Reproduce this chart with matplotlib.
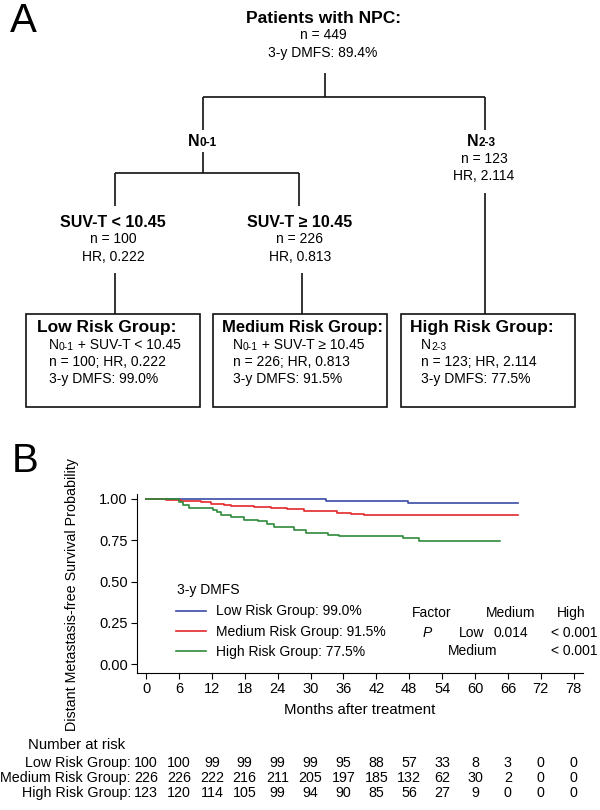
import numpy as np
import matplotlib
matplotlib.use('Agg')
import matplotlib.pyplot as plt
from matplotlib.patches import Rectangle
from matplotlib.transforms import blended_transform_factory

plt.rcParams['font.family'] = ['Liberation Sans', 'DejaVu Sans']

# ---- Panel A: textos del árbol de decisión
root_title = 'Patients with NPC:'
root_lines = ['n = 449', '3-y DMFS: 89.4%']
n_nodes = ['0-1', '2-3']
n23_lines = ['n = 123', 'HR, 2.114']
suv_titles = ['SUV-T < 10.45', 'SUV-T \u2265 10.45']
suv_lines = [['n = 100', 'HR, 0.222'], ['n = 226', 'HR, 0.813']]
box_titles = ['Low Risk Group:', 'Medium Risk Group:', 'High Risk Group:']
box_first = [('0-1', ' + SUV-T < 10.45'), ('0-1', ' + SUV-T \u2265 10.45'), ('2-3', '')]
box_lines = [['n = 100; HR, 0.222', '3-y DMFS: 99.0%'],
             ['n = 226; HR, 0.813', '3-y DMFS: 91.5%'],
             ['n = 123; HR, 2.114', '3-y DMFS: 77.5%']]

# ---- Panel B: curvas Kaplan-Meier
low_t = [0, 32.8, 47.8, 67.8]
low_s = [1.0, 0.99, 0.975, 0.975]
med_t = [0, 3.6, 6.4, 10.0, 11.8, 14.3, 15.5, 19.7, 22.8, 25.8, 28.8, 31.0,
         34.9, 37.4, 39.8, 67.8]
med_s = [1.0, 0.994, 0.988, 0.982, 0.972, 0.966, 0.958, 0.952, 0.944, 0.938,
         0.930, 0.925, 0.917, 0.910, 0.904, 0.904]
high_t = [0, 6.0, 6.8, 7.9, 12.2, 12.9, 13.7, 15.5, 17.9, 20.4, 22.0, 23.3,
          27.0, 29.2, 33.1, 35.2, 46.8, 49.8, 64.5]
high_s = [1.0, 0.984, 0.964, 0.948, 0.935, 0.922, 0.905, 0.893, 0.873, 0.865,
          0.849, 0.829, 0.810, 0.796, 0.784, 0.776, 0.764, 0.748, 0.748]

groups = ['Low Risk Group', 'Medium Risk Group', 'High Risk Group']
dmfs_3y = ['99.0%', '91.5%', '77.5%']
colors = ['#3b4aa6', '#e4282b', '#2d8a3c']

months = np.arange(0, 79, 6)
risk_low = [100, 100, 99, 99, 99, 99, 95, 88, 57, 33, 8, 3, 0, 0]
risk_med = [226, 226, 222, 216, 211, 205, 197, 185, 132, 62, 30, 2, 0, 0]
risk_high = [123, 120, 114, 105, 99, 94, 90, 85, 56, 27, 9, 0, 0, 0]

p_header = ['Factor', 'Medium', 'High']
p_row1 = ['Low', '0.014', '< 0.001']
p_row2 = ['Medium', '< 0.001']

fig = plt.figure(figsize=(6, 8.1), dpi=100)

# capa en coordenadas de píxel para el diagrama
ov = fig.add_axes([0, 0, 1, 1])
ov.set_xlim(0, 600)
ov.set_ylim(810, 0)
ov.axis('off')

lc = '#111111'
lw = 1.2


def seg(x0, y0, x1, y1):
    ov.plot([x0, x1], [y0, y1], color=lc, lw=lw, solid_capstyle='butt')


def sub_text(x, y, sub, rest, size, sub_size, weight):
    t = ov.text(x, y, 'N', fontsize=size, weight=weight, ha='left', va='baseline')
    t2 = ov.annotate(sub, xy=(1, 0), xycoords=t, fontsize=sub_size,
                     weight=weight, ha='left', va='bottom')
    if rest:
        ov.annotate(rest, xy=(1, 0), xycoords=t2, fontsize=size,
                    weight=weight, ha='left', va='bottom')


ov.text(10, 32, 'A', fontsize=29, ha='left', va='baseline')
ov.text(12, 472, 'B', fontsize=29, ha='left', va='baseline')

# raíz
ov.text(323, 22.7, root_title, fontsize=12.5, weight='bold', ha='center', va='baseline')
ov.text(323, 39.3, root_lines[0], fontsize=10, ha='center', va='baseline')
ov.text(323, 56.5, root_lines[1], fontsize=10, ha='center', va='baseline')

seg(324.5, 73, 324.5, 97)
seg(203, 97, 485, 97)
seg(203, 97, 203, 130)
seg(485, 97, 485, 130)

# nodos N
sub_text(187.5, 145.7, n_nodes[0], '', 11.5, 8.5, 'bold')
sub_text(467, 145.7, n_nodes[1], '', 11.5, 8.5, 'bold')
ov.text(484, 162.7, n23_lines[0], fontsize=10, ha='center', va='baseline')
ov.text(484, 180, n23_lines[1], fontsize=10, ha='center', va='baseline')

seg(203, 152, 203, 173)
seg(115, 173, 299, 173)
seg(115, 173, 115, 206)
seg(299, 173, 299, 206)
seg(485, 193, 485, 314)

# nodos SUV-T
for xc, title, lines in zip([113, 300], suv_titles, suv_lines):
    ov.text(xc, 226.7, title, fontsize=11.5, weight='bold', ha='center', va='baseline')
    ov.text(xc, 243.3, lines[0], fontsize=10, ha='center', va='baseline')
    ov.text(xc, 260.7, lines[1], fontsize=10, ha='center', va='baseline')
    seg(xc + 2, 273, xc + 2, 314)

# cajas de grupos de riesgo
box_x = [(26, 200), (213, 387), (401, 575)]
title_x = [37, 222, 410]
title_size = [12.5, 11.9, 12.5]
text_x = [49, 233, 421]
for (x0, x1), tx, ts, lx, title, first, lines in zip(box_x, title_x, title_size, text_x,
                                                     box_titles, box_first, box_lines):
    ov.add_patch(Rectangle((x0, 314), x1 - x0, 93, fill=False, edgecolor=lc, lw=lw))
    ov.text(tx, 332.3, title, fontsize=ts, weight='bold', ha='left', va='baseline')
    sub_text(lx, 349.3, first[0], first[1], 10, 7.5, 'normal')
    ov.text(lx, 366, lines[0], fontsize=10, ha='left', va='baseline')
    ov.text(lx, 383, lines[1], fontsize=10, ha='left', va='baseline')

# ---- Panel B
ax = fig.add_axes([136.7 / 600, 137 / 810, 446.3 / 600, 179 / 810])
handles = []
for t, s, c, g, d in zip([low_t, med_t, high_t], [low_s, med_s, high_s],
                         colors, groups, dmfs_3y):
    h, = ax.step(t, s, where='post', color=c, lw=1.2, label=f'{g}: {d}')
    handles.append(h)

ax.set_xlim(-1.7, 79.7)
ax.set_ylim(-0.0526, 1.030)
ax.set_xticks(months)
ax.set_yticks([0, 0.25, 0.5, 0.75, 1.0])
ax.set_yticklabels(['0.00', '0.25', '0.50', '0.75', '1.00'])
ax.spines['top'].set_visible(False)
ax.spines['right'].set_visible(False)
ax.spines['left'].set_linewidth(0.8)
ax.spines['bottom'].set_linewidth(0.8)
ax.tick_params(direction='out', length=4, width=0.8, labelsize=10.5, pad=2.5)
ax.set_facecolor('none')
ax.set_xlabel('Months after treatment', fontsize=10.8, labelpad=5)

ov.text(72, 595, 'Distant Metastasis-free Survival Probability', fontsize=10.3,
        rotation=90, ha='center', va='center')

ov.text(177, 594, '3-y DMFS', fontsize=10, ha='left', va='baseline')
leg = ax.legend(handles=handles, loc='upper left',
                bbox_to_anchor=(176, 604.5), bbox_transform=ov.transData,
                frameon=False, fontsize=10,
                borderpad=0, borderaxespad=0,
                handlelength=2.15, handletextpad=0.72, labelspacing=0.45)

# tabla de valores P
fs = 10
ov.text(411.7, 617, p_header[0], fontsize=fs, ha='left', va='baseline')
ov.text(486, 617, p_header[1], fontsize=fs, ha='left', va='baseline')
ov.text(556.7, 617, p_header[2], fontsize=fs, ha='left', va='baseline')
ov.text(423, 636.7, 'P', fontsize=fs, style='italic', ha='left', va='baseline')
ov.text(459, 636.7, p_row1[0], fontsize=fs, ha='left', va='baseline')
ov.text(494, 636.7, p_row1[1], fontsize=fs, ha='left', va='baseline')
ov.text(551, 636.7, p_row1[2], fontsize=fs, ha='left', va='baseline')
ov.text(447.7, 655, p_row2[0], fontsize=fs, ha='left', va='baseline')
ov.text(551, 655, p_row2[1], fontsize=fs, ha='left', va='baseline')

# número en riesgo
ov.text(28, 749.3, 'Number at risk', fontsize=10.7, ha='left', va='baseline')
tr = blended_transform_factory(ax.transData, ov.transData)
for yb, g, vals in zip([766.7, 781.7, 796.7], groups, [risk_low, risk_med, risk_high]):
    ov.text(131, yb, g + ':', fontsize=10.3, ha='right', va='baseline')
    for m, v in zip(months, vals):
        ax.text(m, yb, str(v), transform=tr, fontsize=10.3, ha='center',
                va='baseline', clip_on=False)

fig.savefig('out.png', dpi=100)
